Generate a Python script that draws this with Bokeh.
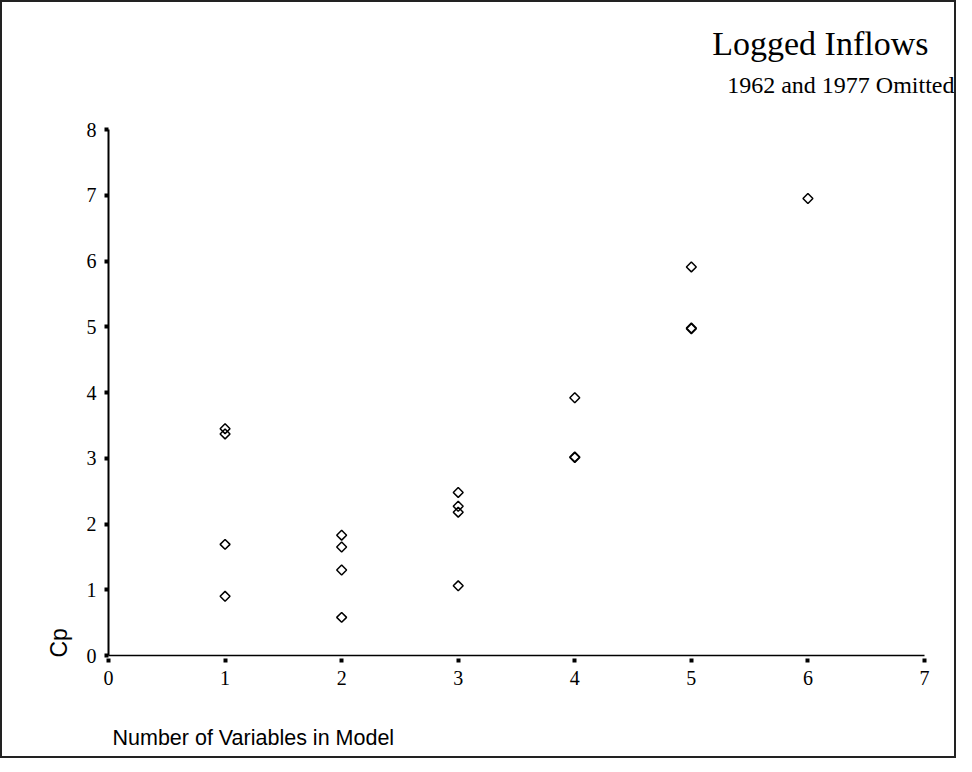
import math
from bokeh.plotting import figure
from bokeh.models import Range1d, FixedTicker, Title
from bokeh.embed import file_html
from bokeh.resources import INLINE

# Data
n_vars = [1, 1, 1, 1, 2, 2, 2, 2, 3, 3, 3, 3, 4, 4, 4, 5, 5, 5, 6]
cp_vals = [3.45, 3.37, 1.69, 0.90, 1.83, 1.65, 1.30, 0.58, 2.48, 2.27, 2.18, 1.06,
           3.92, 3.02, 3.01, 5.91, 4.98, 4.97, 6.95]
x_ticks = [0, 1, 2, 3, 4, 5, 6, 7]
y_ticks = [0, 1, 2, 3, 4, 5, 6, 7, 8]
title_text = "Logged Inflows"
subtitle_text = "1962 and 1977 Omitted"
x_label = "Number of Variables in Model"
y_label = "Cp"

SERIF = "Liberation Serif"
SANS = "Liberation Sans"

p = figure(width=956, height=758, output_backend="svg", toolbar_location=None,
           title=None,
           x_range=Range1d(0, 7), y_range=Range1d(0, 8),
           min_border_left=106, min_border_top=127, min_border_right=34,
           min_border_bottom=105)
p.styles = {"border": "2px solid #222"}
p.outline_line_color = None
p.xgrid.visible = False
p.ygrid.visible = False
p.background_fill_color = "white"
p.border_fill_color = "white"

p.xaxis.ticker = FixedTicker(ticks=x_ticks)
p.yaxis.ticker = FixedTicker(ticks=y_ticks)
for ax in (p.xaxis, p.yaxis):
    ax.minor_tick_line_color = None
    ax.axis_line_color = "black"
    ax.major_tick_line_color = "black"
    ax.major_label_text_font = SERIF
    ax.major_label_text_font_size = "20px"
    ax.major_label_text_color = "black"

p.xaxis.axis_line_width = 1.5
p.xaxis.major_tick_line_width = 4
p.xaxis.major_tick_in = -3
p.xaxis.major_tick_out = 7
p.xaxis.major_label_standoff = 8

p.yaxis.axis_line_width = 2
p.yaxis.major_tick_line_width = 4
p.yaxis.major_tick_in = 0
p.yaxis.major_tick_out = 4
p.yaxis.major_label_standoff = 8

p.scatter(n_vars, cp_vals, marker="square", angle=math.pi / 4, size=7,
          fill_color=None, line_color="black", line_width=1.5)


def spacer(px):
    return Title(text=" ", text_font_size="1px", standoff=px, text_color="white")


# above: spacer next to the frame, then subtitle, then main title
p.add_layout(spacer(27), "above")
p.add_layout(Title(text=subtitle_text, align="right", offset=-30, standoff=4,
                   text_font=SERIF, text_font_size="24px", text_font_style="normal",
                   text_color="black"), "above")
p.add_layout(Title(text=title_text, align="right", offset=-4, standoff=11,
                   text_font=SERIF, text_font_size="34px", text_font_style="normal",
                   text_color="black"), "above")
# below: spacer under the axis, then the axis label
p.add_layout(spacer(31), "below")
p.add_layout(Title(text=x_label, align="left", offset=4, standoff=4,
                   text_font=SANS, text_font_size="21.5px", text_font_style="normal",
                   text_color="black"), "below")
p.add_layout(Title(text=y_label, align="left", offset=-2, standoff=24,
                   text_font=SANS, text_font_size="23px", text_font_style="normal",
                   text_color="black"), "left")

open("out.html", "w").write(file_html(p, INLINE))
